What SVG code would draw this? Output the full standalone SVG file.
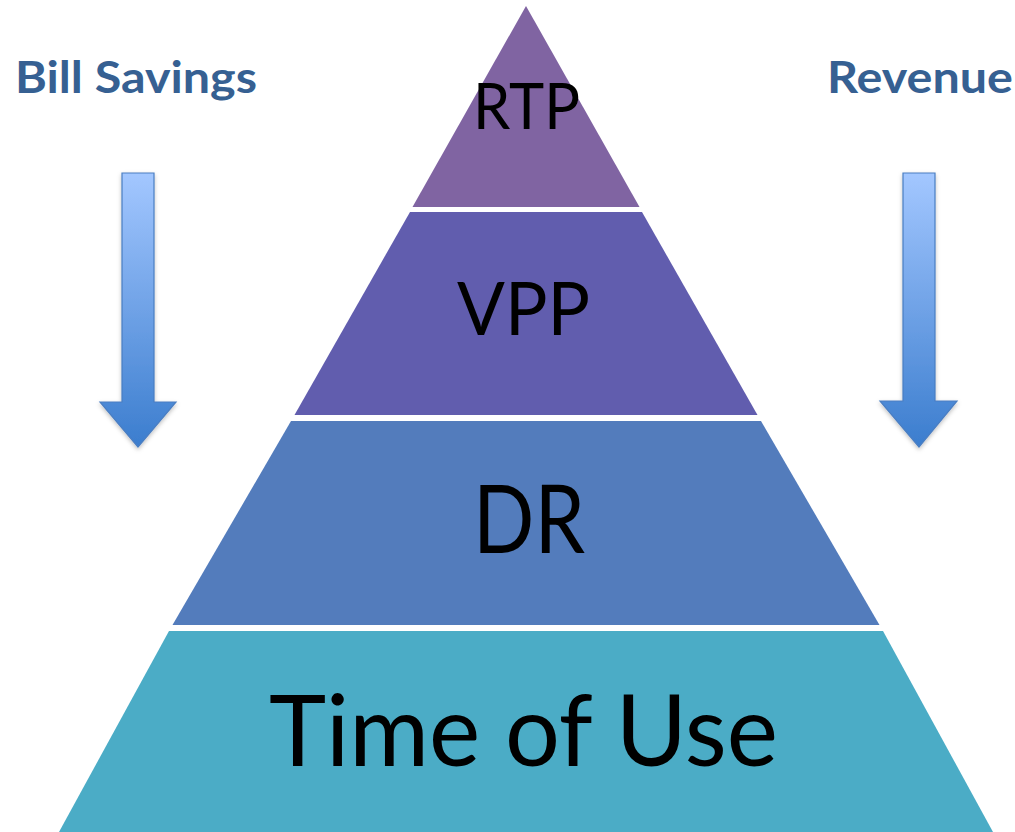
<svg xmlns="http://www.w3.org/2000/svg" width="1015" height="832" viewBox="0 0 1015 832">
<style>
.lbl{font-family:Lato,"Open Sans","Liberation Sans",sans-serif;fill:#000;text-anchor:middle}
.side{font-family:Lato,"Open Sans","Liberation Sans",sans-serif;font-weight:bold;fill:#366092;text-anchor:middle;font-size:43px}
.arrow{fill:url(#ag);stroke:#4A7EC2;stroke-width:1.2;filter:url(#sh)}
</style>
<defs>
<linearGradient id="ag" x1="0" y1="0" x2="0" y2="1">
<stop offset="0" stop-color="#A3C7FF"/>
<stop offset="1" stop-color="#3B7DCE"/>
</linearGradient>
<filter id="sh" x="-30%" y="-10%" width="160%" height="130%">
<feDropShadow dx="0" dy="2" stdDeviation="2" flood-color="#000" flood-opacity="0.25"/>
</filter>
</defs>
<rect width="1015" height="832" fill="#fff"/>
<g id="rtp">
<polygon points="526,6 639.5,207 412.5,207" fill="#8064A2"/>
<text class="lbl" x="526.5" y="129" font-size="64" textLength="107" lengthAdjust="spacingAndGlyphs">RTP</text>
</g>
<g id="vpp">
<polygon points="410,212 642,212 757.5,415 294.5,415" fill="#615DAE"/>
<text class="lbl" x="523.5" y="335" font-size="73" textLength="133" lengthAdjust="spacingAndGlyphs">VPP</text>
</g>
<g id="dr">
<polygon points="291,421 761,421 879.5,625 172.5,625" fill="#537CBC"/>
<text class="lbl" x="529" y="553" font-size="95" textLength="112" lengthAdjust="spacingAndGlyphs">DR</text>
</g>
<g id="tou">
<polygon points="169,631 883,631 993,832 59,832" fill="#4BACC6"/>
<text class="lbl" x="523.5" y="766" font-size="98" textLength="509" lengthAdjust="spacingAndGlyphs">Time of Use</text>
</g>
<g id="bill-savings">
<text class="side" x="136" y="93" textLength="242" lengthAdjust="spacingAndGlyphs">Bill Savings</text>
</g>
<g id="revenue">
<text class="side" x="920" y="93" textLength="186" lengthAdjust="spacingAndGlyphs">Revenue</text>
</g>
<g id="connectors">
<polygon class="arrow" points="122,173 154,173 154,402 176,402 138,447 100,402 122,402"/>
<polygon class="arrow" points="903,173 935,173 935,401 957,401 919,447 880,401 903,401"/>
</g>
</svg>
